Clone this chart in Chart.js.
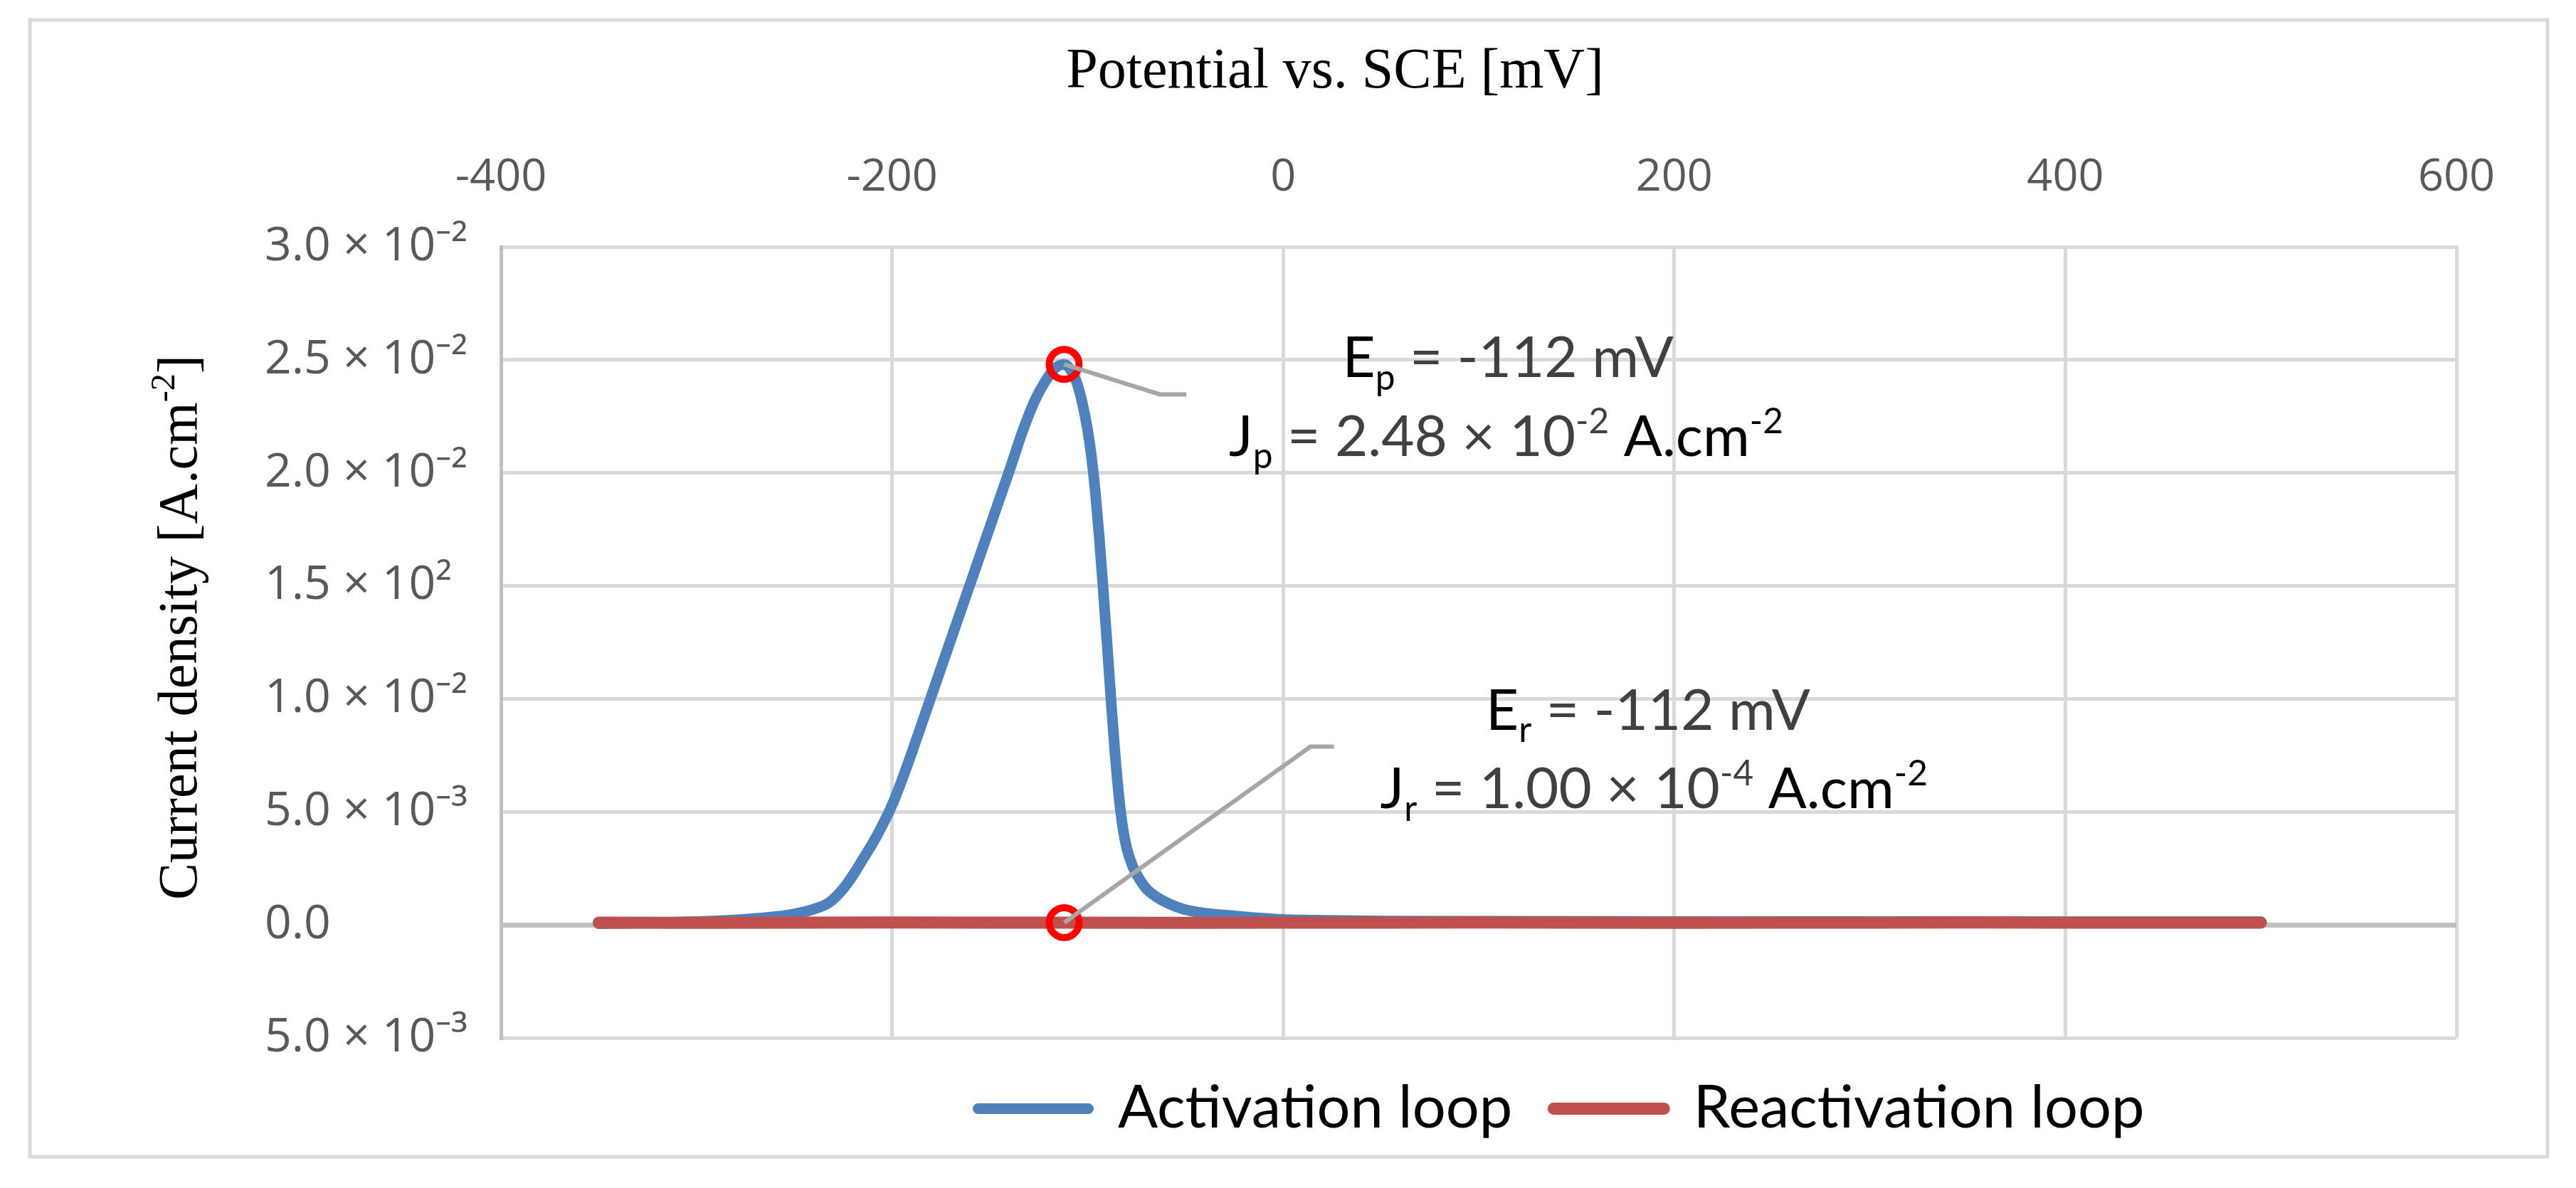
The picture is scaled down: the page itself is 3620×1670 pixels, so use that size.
<!DOCTYPE html>
<html>
<head>
<meta charset="utf-8">
<script src="https://cdn.jsdelivr.net/npm/chart.js@4.4.1/dist/chart.umd.min.js"></script>
<style>
  html, body { margin: 0; padding: 0; background: #fff; }
  canvas { display: block; }
</style>
</head>
<body>
<canvas id="polarization" width="3620" height="1670"></canvas>
<script>
// potential vs SCE in mV, current density in A.cm-2
var activationPotential = [-350, -320, -295, -275, -260, -250, -240, -232, -225, -220, -215, -210, -205, -200, -195, -190, -180, -170, -160, -150, -140, -133, -127, -122, -117, -112, -109, -106, -103, -100, -98, -96, -94, -92, -90, -88, -86, -84, -82, -80, -77, -74, -70, -65, -58, -51, -40, -28, -15, 0, 25, 50, 100, 200, 300, 400, 500];
var activationCurrent = [0.00005, 0.0001, 0.00016, 0.00025, 0.00036, 0.00048, 0.0007, 0.001, 0.0016, 0.0022, 0.0029, 0.0036, 0.0044, 0.0053, 0.0064, 0.0076, 0.0101, 0.0126, 0.0151, 0.0176, 0.0201, 0.0219, 0.0232, 0.024, 0.0246, 0.0248, 0.0246, 0.0241, 0.0232, 0.0219, 0.0207, 0.0191, 0.0171, 0.0148, 0.0124, 0.0099, 0.0076, 0.0057, 0.0043, 0.0034, 0.0026, 0.0021, 0.0016, 0.00125, 0.00092, 0.0007, 0.00052, 0.00042, 0.00032, 0.00024, 0.0002, 0.00017, 0.00016, 0.00015, 0.00015, 0.00014, 0.00014];

var reactivationPotential = [-350, -300, -250, -200, -150, -112, -50, 0, 50, 100, 150, 200, 250, 300, 350, 400, 450, 500];
var reactivationCurrent = [0.0001, 0.00009, 0.0001, 0.00011, 0.0001, 0.0001, 0.00009, 0.0001, 0.0001, 0.00011, 0.0001, 0.00009, 0.0001, 0.0001, 0.00011, 0.0001, 0.0001, 0.0001];

// marked points: peak (Ep, Jp) and reactivation (Er, Jr)
var markPotential = [-112, -112];
var markCurrent = [0.0248, 0.0001];

var seriesNames = ['Activation loop', 'Reactivation loop'];
var yTickLabels = ['5.0 × 10⁻³', '0.0', '5.0 × 10⁻³', '1.0 × 10⁻²', '1.5 × 10²', '2.0 × 10⁻²', '2.5 × 10⁻²', '3.0 × 10⁻²'];

function pairs(xs, ys) {
  return xs.map(function (x, i) { return { x: x, y: ys[i] }; });
}

// callout texts, anchored in data units
var callouts = [
  {
    mark: 0, elbow: [-63, 0.02347], end: [-49.5, 0.02347],
    lines: [
      { at: [115, 0.02423], parts: [['E', '#000'], ['p', '#000', 'sub'], [' = -112 mV', '#404040']] },
      { at: [114, 0.02075], parts: [['J', '#000'], ['p', '#000', 'sub'], [' = 2.48 × 10', '#404040'], ['-2', '#404040', 'sup'], [' A.cm', '#000'], ['-2', '#000', 'sup']] }
    ]
  },
  {
    mark: 1, elbow: [14, 0.00789], end: [26, 0.00789],
    lines: [
      { at: [186.6, 0.00864], parts: [['E', '#000'], ['r', '#000', 'sub'], [' = -112 mV', '#404040']] },
      { at: [189.6, 0.00516], parts: [['J', '#000'], ['r', '#000', 'sub'], [' = 1.00 × 10', '#404040'], ['-4', '#404040', 'sup'], [' A.cm', '#000'], ['-2', '#000', 'sup']] }
    ]
  }
];

function drawRich(ctx, parts, x, y, size, family) {
  var widths = parts.map(function (p) {
    ctx.font = (p[2] ? size * 0.62 : size) + 'px ' + family;
    return ctx.measureText(p[0]).width;
  });
  var total = widths.reduce(function (a, b) { return a + b; }, 0);
  var cx = x - total / 2;
  ctx.textAlign = 'left';
  ctx.textBaseline = 'alphabetic';
  parts.forEach(function (p, i) {
    var s = p[2] ? size * 0.62 : size;
    var dy = p[2] === 'sub' ? size * 0.22 : (p[2] === 'sup' ? -size * 0.4 : 0);
    ctx.font = s + 'px ' + family;
    ctx.fillStyle = p[1];
    ctx.fillText(p[0], cx, y + dy);
    cx += widths[i];
  });
}

var frame = {
  id: 'frame',
  beforeDraw: function (chart) {
    var ctx = chart.ctx;
    ctx.save();
    ctx.fillStyle = '#fff';
    ctx.fillRect(0, 0, chart.width, chart.height);
    ctx.strokeStyle = '#D9D9D9';
    ctx.lineWidth = 5;
    ctx.strokeRect(42, 28, chart.width - 82, chart.height - 72);
    ctx.restore();
  },
  afterDatasetsDraw: function (chart) {
    var ctx = chart.ctx, xs = chart.scales.x, ys = chart.scales.y;
    ctx.save();
    callouts.forEach(function (c) {
      ctx.beginPath();
      ctx.strokeStyle = '#A6A6A6';
      ctx.lineWidth = 6;
      ctx.moveTo(xs.getPixelForValue(markPotential[c.mark]), ys.getPixelForValue(markCurrent[c.mark]));
      ctx.lineTo(xs.getPixelForValue(c.elbow[0]), ys.getPixelForValue(c.elbow[1]));
      ctx.lineTo(xs.getPixelForValue(c.end[0]), ys.getPixelForValue(c.end[1]));
      ctx.stroke();
      c.lines.forEach(function (l) {
        drawRich(ctx, l.parts, xs.getPixelForValue(l.at[0]), ys.getPixelForValue(l.at[1]), 80, 'Lato');
      });
    });
    ctx.restore();
  },
  afterDraw: function (chart) {
    var ctx = chart.ctx, area = chart.chartArea;
    ctx.save();
    // x axis title (sits above the top axis)
    drawRich(ctx, [['Potential vs. SCE [mV]', '#000']], 1876, 123, 80, '"Liberation Serif"');
    // y axis title
    ctx.translate(276, (area.top + area.bottom) / 2 - 21);
    ctx.rotate(-Math.PI / 2);
    drawRich(ctx, [['Current density [A.cm', '#000'], ['-2', '#000', 'sup'], [']', '#000']], 0, 0, 78, '"Liberation Serif"');
    ctx.restore();
  }
};

// legend is centred a little right of the plot area in the original
var legendShift = {
  id: 'legendShift',
  afterLayout: function (chart) {
    chart.legend.left += 116;
    chart.legend.right += 116;
  }
};

var tickFont = { family: '"Open Sans"', size: 66 };

var chart = new Chart(document.getElementById('polarization').getContext('2d'), {
  type: 'line',
  data: {
    datasets: [
      {
        label: seriesNames[0],
        data: pairs(activationPotential, activationCurrent),
        borderColor: '#4F81BD',
        backgroundColor: '#4F81BD',
        borderWidth: 15,
        borderCapStyle: 'round',
        borderJoinStyle: 'round',
        cubicInterpolationMode: 'monotone',
        pointRadius: 0,
        order: 2
      },
      {
        label: seriesNames[1],
        data: pairs(reactivationPotential, reactivationCurrent),
        borderColor: '#C0504D',
        backgroundColor: '#C0504D',
        borderWidth: 17,
        borderCapStyle: 'round',
        borderJoinStyle: 'round',
        pointRadius: 0,
        order: 1
      },
      {
        label: 'marks',
        data: pairs(markPotential, markCurrent),
        showLine: false,
        pointRadius: 21,
        pointBorderWidth: 10,
        pointBorderColor: '#FF0000',
        pointBackgroundColor: 'rgba(255,255,255,0)',
        order: 0
      }
    ]
  },
  options: {
    responsive: false,
    animation: false,
    devicePixelRatio: 1,
    events: [],
    layout: { padding: { left: 372, right: 168, top: 0, bottom: 60 } },
    scales: {
      x: {
        type: 'linear',
        position: 'top',
        min: -400,
        max: 600,
        afterFit: function (s) { s.height = 347; },
        ticks: { stepSize: 200, color: '#595959', font: { family: '"Open Sans"', size: 63 }, padding: 59 },
        grid: { color: '#D9D9D9', lineWidth: 5, drawTicks: false },
        border: { color: '#D9D9D9', width: 5 }
      },
      y: {
        type: 'linear',
        min: -0.005,
        max: 0.03,
        afterFit: function (s) { s.width = 332; },
        ticks: {
          stepSize: 0.005,
          color: '#595959',
          font: tickFont,
          crossAlign: 'far',
          callback: function (v, i) { return yTickLabels[i]; }
        },
        grid: {
          drawTicks: false,
          color: function (c) { return c.tick && Math.abs(c.tick.value) < 1e-9 ? '#BFBFBF' : '#D9D9D9'; },
          lineWidth: function (c) { return c.tick && Math.abs(c.tick.value) < 1e-9 ? 7 : 5; }
        },
        border: { color: '#BFBFBF', width: 5 }
      }
    },
    plugins: {
      tooltip: { enabled: false },
      title: { display: false },
      legend: {
        position: 'bottom',
        fullSize: false,
        labels: {
          color: '#000',
          font: { family: 'Lato', size: 83 },
          boxWidth: 155,
          boxHeight: 0,
          padding: 58,
          filter: function (item) { return item.datasetIndex < 2; },
          sort: function (a, b) { return a.datasetIndex - b.datasetIndex; }
        }
      }
    }
  },
  plugins: [frame, legendShift]
});
</script>
</body>
</html>
